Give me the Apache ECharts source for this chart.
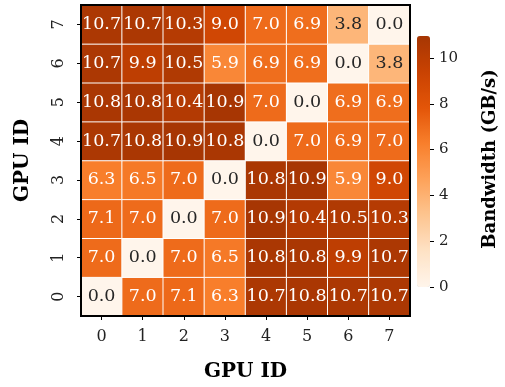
<!DOCTYPE html>
<html><head><meta charset="utf-8">
<script src="https://cdn.jsdelivr.net/npm/echarts@6/dist/echarts.min.js"></script>
<style>html,body{margin:0;padding:0;background:#fff}#c{width:505px;height:387px}</style>
</head><body><div id="c"></div>
<script>
const gpuIds = ['0','1','2','3','4','5','6','7'];
// rows listed from GPU 7 (top) down to GPU 0 (bottom); columns GPU 0..7
const row7 = [10.7,10.7,10.3,9.0,7.0,6.9,3.8,0.0];
const row6 = [10.7,9.9,10.5,5.9,6.9,6.9,0.0,3.8];
const row5 = [10.8,10.8,10.4,10.9,7.0,0.0,6.9,6.9];
const row4 = [10.7,10.8,10.9,10.8,0.0,7.0,6.9,7.0];
const row3 = [6.3,6.5,7.0,0.0,10.8,10.9,5.9,9.0];
const row2 = [7.1,7.0,0.0,7.0,10.9,10.4,10.5,10.3];
const row1 = [7.0,0.0,7.0,6.5,10.8,10.8,9.9,10.7];
const row0 = [0.0,7.0,7.1,6.3,10.7,10.8,10.7,10.7];
const colorbarTicks = [0,2,4,6,8,10];
const vMin = 0, vMax = 10.96;

const rows = [row0,row1,row2,row3,row4,row5,row6,row7];
const data = [];
rows.forEach((r, y) => r.forEach((v, x) => {
  data.push({value:[x, y, v], label:{color: v < 5 ? '#262626' : '#ffffff'}});
}));

const font = 'DejaVu Serif';
const chart = echarts.init(document.getElementById('c'));
chart.setOption({
  animation:false,
  grid:[
    {left:81, top:5, width:329, height:312, show:true, borderColor:'#000', borderWidth:2, backgroundColor:'transparent', z:10},
    {left:417, top:58, width:13, height:229, show:false}
  ],
  xAxis:[
    {type:'category', data:gpuIds, gridIndex:0,
     axisLine:{show:false}, splitLine:{show:false}, splitArea:{show:false},
     axisTick:{show:true, alignWithLabel:true, length:4, lineStyle:{color:'#000', width:1}},
     axisLabel:{fontFamily:font, fontSize:16, color:'#222', margin:13},
     name:'GPU ID', nameLocation:'middle', nameGap:46,
     nameTextStyle:{fontFamily:font, fontSize:20, fontWeight:'bold', color:'#000'}},
    {type:'category', data:['c'], gridIndex:1, show:false}
  ],
  yAxis:[
    {type:'category', data:gpuIds, gridIndex:0,
     axisLine:{show:false}, splitLine:{show:false}, splitArea:{show:false},
     axisTick:{show:true, alignWithLabel:true, length:4, lineStyle:{color:'#000', width:1}},
     axisLabel:{fontFamily:font, fontSize:16, color:'#222', rotate:90, margin:14},
     name:'GPU ID', nameLocation:'middle', nameGap:48, nameRotate:90,
     nameTextStyle:{fontFamily:font, fontSize:20, fontWeight:'bold', color:'#000'}},
    {type:'value', gridIndex:1, position:'right', min:colorbarTicks[0], max:colorbarTicks[colorbarTicks.length-1], interval:2,
     axisLine:{show:false, onZero:false}, splitLine:{show:false},
     axisTick:{show:true, length:4, lineStyle:{color:'#000', width:1}},
     axisLabel:{show:true, fontFamily:font, fontSize:15, color:'#222', margin:9}}
  ],
  visualMap:{
    type:'continuous', min:vMin, max:vMax, seriesIndex:0, show:true, calculable:false,
    orient:'vertical', left:417, top:36, itemWidth:13, itemHeight:251, padding:0, text:null,
    inRange:{color:['#fff5eb','#fee2c5','#fdc590','#fda25a','#f87f2c','#e35508','#c94202','#a63603']}
  },
  graphic:[
    {type:'text', x:490, y:159, rotation:Math.PI/2,
     style:{text:'Bandwidth (GB/s)', font:'bold 18px "DejaVu Serif"', fill:'#000', align:'center', verticalAlign:'middle'}}
  ],
  series:[
    {type:'heatmap', xAxisIndex:0, yAxisIndex:0, data:data,
     itemStyle:{borderColor:'#fff', borderWidth:1},
     label:{show:true, fontFamily:font, fontSize:17.5, formatter:p=>p.value[2].toFixed(1)}},
    {type:'line', xAxisIndex:1, yAxisIndex:1, data:[]}
  ]
});
</script></body></html>
